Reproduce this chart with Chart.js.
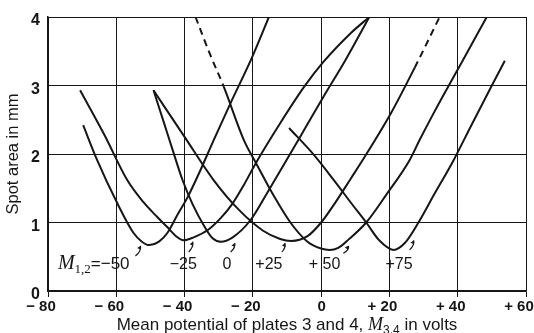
<!DOCTYPE html>
<html>
<head>
<meta charset="utf-8">
<script src="https://cdn.jsdelivr.net/npm/chart.js@4/dist/chart.umd.min.js"></script>
<style>
  html, body { margin: 0; padding: 0; background: #fff; }
  #wrap { width: 534px; height: 333px; }
</style>
</head>
<body>
<div id="wrap"><canvas id="spotChart" width="534" height="333"></canvas></div>
<script>
// axis ticks
const xTicks = [-80, -60, -40, -20, 0, 20, 40, 60];
const xTickLabels = ['\u2212 80', '\u2212 60', '\u2212 40', '\u2212 20', '\u20030', '+ 20', '+ 40', '+ 60'];
const yTicks = [0, 1, 2, 3, 4];
const yTickLabels = ['0', '1', '2', '3', '4'];

// curve labels (M1,2 values)
const curveNames = ['\u221250', '\u221225', '0', '+25', '+ 50', '+75'];

// M1,2 = -50
const m50X = [-69.7, -65.6, -59.7, -55.0, -52.5, -50.3, -47.5, -45.0, -42.0, -39.1, -35.3, -31.5, -26.0, -20.6, -15.3];
const m50Y = [2.42, 1.91, 1.28, 0.85, 0.72, 0.67, 0.72, 0.85, 1.12, 1.37, 1.77, 2.20, 2.80, 3.37, 4.00];
// M1,2 = -25
const m25X = [-70.6, -63.5, -56.8, -52.1, -48.0, -45.0, -42.5, -40.3, -37.5, -33.2, -29.5, -25.9, -22.5, -19.1, -12.0, -5.0, 0.6, 8.8, 14.1];
const m25Y = [2.93, 2.28, 1.62, 1.30, 1.08, 0.93, 0.80, 0.74, 0.78, 0.89, 1.06, 1.28, 1.56, 1.87, 2.45, 2.98, 3.34, 3.77, 4.00];
// M1,2 = 0
const p0X = [-49.1, -46.0, -43.5, -40.6, -37.6, -34.4, -31.8, -29.4, -26.0, -20.6, -15.6, -11.8, -5.0, 0.6, 7.1, 14.1];
const p0Y = [2.93, 2.45, 2.06, 1.62, 1.26, 0.96, 0.77, 0.72, 0.78, 1.04, 1.45, 1.77, 2.35, 2.83, 3.37, 4.00];
// M1,2 = +25
const p25X = [-49.1, -40.0, -31.5, -24.0, -17.0, -12.0, -8.8, -4.0, 0.0, 4.0, 8.8, 12.4, 20.6, 27.4, 34.7];
const p25Y = [2.93, 2.25, 1.62, 1.18, 0.88, 0.76, 0.73, 0.80, 1.00, 1.28, 1.65, 1.93, 2.61, 3.26, 4.00];
// M1,2 = +50
const p50X = [-36.8, -32.5, -28.5, -22.6, -19.1, -14.0, -9.0, -4.0, 0.0, 2.4, 5.0, 8.0, 13.2, 19.0, 25.9, 28.8, 33.0, 37.4, 41.2, 48.5];
const p50Y = [4.00, 3.45, 2.98, 2.20, 1.87, 1.40, 1.00, 0.72, 0.62, 0.60, 0.63, 0.75, 1.00, 1.40, 1.91, 2.20, 2.60, 3.00, 3.34, 4.00];
// M1,2 = +75
const p75X = [-9.4, -2.0, 4.0, 9.0, 13.2, 17.0, 21.2, 24.5, 28.5, 33.0, 38.8, 44.0, 50.0, 53.8];
const p75Y = [2.38, 1.98, 1.60, 1.27, 1.00, 0.74, 0.60, 0.70, 1.00, 1.40, 1.91, 2.42, 3.00, 3.36];

const curves = [
  { xs: m50X, ys: m50Y, dashTo: -1, dashFrom: 999 },
  { xs: m25X, ys: m25Y, dashTo: -1, dashFrom: 999 },
  { xs: p0X,  ys: p0Y,  dashTo: -1, dashFrom: 999 },
  { xs: p25X, ys: p25Y, dashTo: -1, dashFrom: 13 },   // top of right branch dashed
  { xs: p50X, ys: p50Y, dashTo: 2,  dashFrom: 999 },  // top of left branch dashed
  { xs: p75X, ys: p75Y, dashTo: -1, dashFrom: 999 }
];

const INK = '#161616';

const datasets = curves.map((c, k) => ({
  label: curveNames[k],
  data: c.xs.map((x, i) => ({ x: x, y: c.ys[i] })),
  borderColor: INK,
  borderWidth: 2,
  pointRadius: 0,
  fill: false,
  cubicInterpolationMode: 'monotone',
  segment: {
    borderDash: s => (s.p1DataIndex <= c.dashTo || s.p0DataIndex >= c.dashFrom) ? [7, 5] : undefined
  }
}));

// curve labels + little pointer arrows, drawn on top
const labelPlugin = {
  id: 'labels',
  afterDraw(chart) {
    const g = chart.ctx;
    const xs = chart.scales.x, ys = chart.scales.y;
    const X = v => xs.getPixelForValue(v), Y = v => ys.getPixelForValue(v);
    g.save();
    g.fillStyle = INK;
    g.strokeStyle = INK;
    g.textBaseline = 'alphabetic';

    const base = Y(0.32);
    // M1,2=-50
    let px = X(-77.1);
    g.font = 'italic 20px "Liberation Serif"';
    g.textAlign = 'left';
    g.fillText('M', px, base);
    px += g.measureText('M').width;
    g.font = '13px "Liberation Serif"';
    g.fillText('1,2', px, base + 4);
    px += g.measureText('1,2').width;
    g.font = '17px "Liberation Sans"';
    g.fillText('=' + curveNames[0], px, base);

    const centers = [null, -40.4, -27.6, -15.3, 1.0, 22.8];
    g.font = '16px "Liberation Sans"';
    g.textAlign = 'center';
    for (let k = 1; k < centers.length; k++) {
      g.fillText(curveNames[k], X(centers[k]), base);
    }

    // pointer ticks from labels up to curves
    const arrows = [
      [-54.4, 0.51, -52.9, 0.66],
      [-38.8, 0.57, -37.6, 0.72],
      [-26.5, 0.57, -25.3, 0.70],
      [-11.5, 0.57, -10.6, 0.70],
      [6.5, 0.55, 8.0, 0.66],
      [25.9, 0.60, 27.1, 0.74]
    ];
    g.lineWidth = 1.2;
    arrows.forEach(a => {
      const x0 = X(a[0]), y0 = Y(a[1]), x1 = X(a[2]), y1 = Y(a[3]);
      g.beginPath();
      g.moveTo(x0, y0);
      g.quadraticCurveTo(x1 + 1, (y0 + y1) / 2, x1, y1);
      g.stroke();
      const ang = Math.atan2(y1 - y0, x1 - x0);
      g.beginPath();
      g.moveTo(x1, y1);
      g.lineTo(x1 - 4 * Math.cos(ang - 0.5), y1 - 4 * Math.sin(ang - 0.5));
      g.lineTo(x1 - 4 * Math.cos(ang + 0.5), y1 - 4 * Math.sin(ang + 0.5));
      g.closePath();
      g.fill();
    });

    // x axis title with subscript
    const parts = [
      ['Mean potential of plates 3 and 4, ', '17px "Liberation Sans"', 0],
      ['M', 'italic 18px "Liberation Serif"', 0],
      ['3,4', '12px "Liberation Sans"', 4],
      [' in volts', '17px "Liberation Sans"', 0]
    ];
    let total = 0;
    parts.forEach(p => { g.font = p[1]; total += g.measureText(p[0]).width; });
    let tx = (chart.chartArea.left + chart.chartArea.right) / 2 - total / 2;
    g.textAlign = 'left';
    parts.forEach(p => {
      g.font = p[1];
      g.fillText(p[0], tx, 330 + p[2]);
      tx += g.measureText(p[0]).width;
    });
    g.restore();
  }
};

new Chart(document.getElementById('spotChart'), {
  type: 'line',
  data: { datasets: datasets },
  options: {
    responsive: false,
    animation: false,
    devicePixelRatio: 1,
    layout: { padding: { left: 0, top: 17, right: 8, bottom: 0 } },
    plugins: { legend: { display: false }, tooltip: { enabled: false } },
    scales: {
      x: {
        type: 'linear',
        min: -80, max: 60,
        afterBuildTicks: s => { s.ticks = xTicks.map(v => ({ value: v })); },
        afterFit: s => { s.height = 42; s.paddingLeft = 0; s.paddingRight = 0; },
        grid: { color: INK, lineWidth: 1, tickLength: 6 },
        border: { color: INK, width: 1.5 },
        ticks: {
          color: INK,
          maxRotation: 0,
          autoSkip: false,
          padding: 1,
          labelOffset: -7,
          font: { family: 'Liberation Sans', weight: 'bold', size: 15 },
          callback: v => xTickLabels[xTicks.indexOf(v)]
        }
      },
      y: {
        type: 'linear',
        min: 0, max: 4,
        afterBuildTicks: s => { s.ticks = yTicks.map(v => ({ value: v })); },
        afterFit: s => { s.width = 48; s.paddingTop = 0; s.paddingBottom = 0; },
        grid: { color: INK, lineWidth: 1, drawTicks: false },
        border: { color: INK, width: 1.5 },
        ticks: {
          color: INK,
          padding: 8,
          labelOffset: 4,
          font: { family: 'Liberation Sans', weight: 'bold', size: 16 },
          callback: v => yTickLabels[yTicks.indexOf(v)]
        },
        title: {
          display: true,
          text: 'Spot area in mm',
          color: INK,
          padding: { top: 4, bottom: 0 },
          font: { family: 'Liberation Sans', size: 16.5 }
        }
      }
    }
  },
  plugins: [labelPlugin]
});
</script>
</body>
</html>
